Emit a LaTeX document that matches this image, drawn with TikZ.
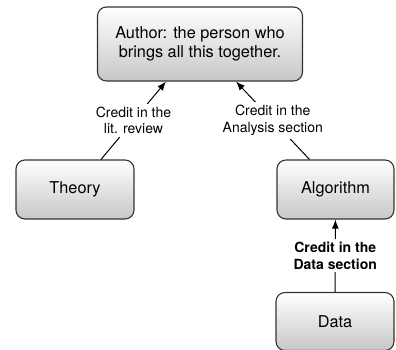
\documentclass[tikz,border=0pt]{standalone}
\usepackage{fontspec}
\setmainfont{TeX Gyre Heros}
\usetikzlibrary{arrows.meta}
\usetikzlibrary{positioning}

\begin{document}
\begin{tikzpicture}[x=1pt,y=-1pt]
  \tikzset{box/.style={draw=black!80, line width=1.1pt, rounded corners=9pt,
      top color=white, bottom color=black!22, align=center,
      font=\fontsize{16.3}{19.5}\selectfont, inner sep=0pt}}
  \tikzset{credit/.style={fill=white, align=center, inner sep=3pt,
      font=\fontsize{14}{16.5}\selectfont}}
  \tikzset{line/.style={draw, ->, >={Latex[length=9pt,width=7pt]}, line width=1pt}}

  \useasboundingbox (0,0) rectangle (396,350);

  \node[box, minimum width=205pt, minimum height=74pt] (author) at (200,44)
    {Author: the person who\\brings all this together.};
  \node[box, minimum width=118pt, minimum height=59pt] (theory) at (75,189.5) {Theory};
  \node[box, minimum width=117pt, minimum height=59pt] (algorithm) at (335.5,189.5) {Algorithm};
  \node[box, minimum width=118pt, minimum height=58pt] (data) at (335,321.5) {Data};

  \path ([xshift=26pt]theory.north) edge[line] node[credit, pos=0.5] {Credit in the\\lit. review} ([xshift=-34pt]author.south);
  \path ([xshift=-26pt]algorithm.north) edge[line] node[credit, pos=0.5] {Credit in the\\Analysis section} ([xshift=36pt]author.south);
  \path (data) edge[line] node[credit, pos=0.5, font=\fontsize{14}{16.5}\selectfont\bfseries] {Credit in the\\Data section} (algorithm);

\end{tikzpicture}
\end{document}
